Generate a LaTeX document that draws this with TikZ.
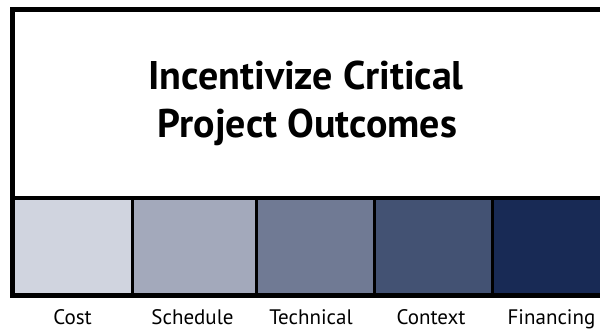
\documentclass[tikz,border=0pt]{standalone}
\usepackage{fontspec}
\setmainfont{PT Sans}
\definecolor{cCost}{RGB}{208,212,223}
\definecolor{cSched}{RGB}{163,169,187}
\definecolor{cTech}{RGB}{112,122,148}
\definecolor{cCont}{RGB}{67,82,115}
\definecolor{cFin}{RGB}{24,42,85}
\begin{document}
\begin{tikzpicture}[x=1pt,y=-1pt,
  titletext/.style={inner sep=0pt, anchor=base, font=\fontsize{40}{44}\selectfont\bfseries},
  labeltext/.style={inner sep=0pt, anchor=base, font=\fontsize{21}{23}\selectfont},
  sep/.style={line width=3pt, black},
  frame/.style={line width=5pt, black}]
\useasboundingbox (0,0) rectangle (600,329);
\begin{scope}
\clip (0,0) rectangle (600,329);
% colored cells
\fill[cCost]  (12.5,198) rectangle (132.5,295.5);
\fill[cSched] (132.5,198) rectangle (256,295.5);
\fill[cTech]  (256,198) rectangle (374.5,295.5);
\fill[cCont]  (374.5,198) rectangle (492.5,295.5);
\fill[cFin]   (492.5,198) rectangle (620,295.5);
% separators
\coordinate (s1t) at (132.5,198); \coordinate (s1b) at (132.5,295.5);
\coordinate (s2t) at (256,198);   \coordinate (s2b) at (256,295.5);
\coordinate (s3t) at (374.5,198); \coordinate (s3b) at (374.5,295.5);
\coordinate (s4t) at (492.5,198); \coordinate (s4b) at (492.5,295.5);
\draw[sep] (s1t) -- (s1b);
\draw[sep] (s2t) -- (s2b);
\draw[sep] (s3t) -- (s3b);
\draw[sep] (s4t) -- (s4b);
% horizontal divider
\coordinate (hl) at (12.5,198); \coordinate (hr) at (620,198);
\draw[line width=4pt] (hl) -- (hr);
% outer frame
\draw[frame] (12.5,9.5) rectangle (620,295.5);
\end{scope}
% title
\node[titletext] (t1) at (306,89) {Incentivize Critical};
\node[titletext] (t2) at (307.5,137) {Project Outcomes};
% labels
\node[labeltext] (lcost) at (72.5,324) {Cost};
\node[labeltext] (lsched) at (192.5,324) {Schedule};
\node[labeltext] (ltech) at (311,324) {Technical};
\node[labeltext] (lcont) at (431,324) {Context};
\node[labeltext] (lfin) at (551.5,324) {Financing};
\end{tikzpicture}
\end{document}
